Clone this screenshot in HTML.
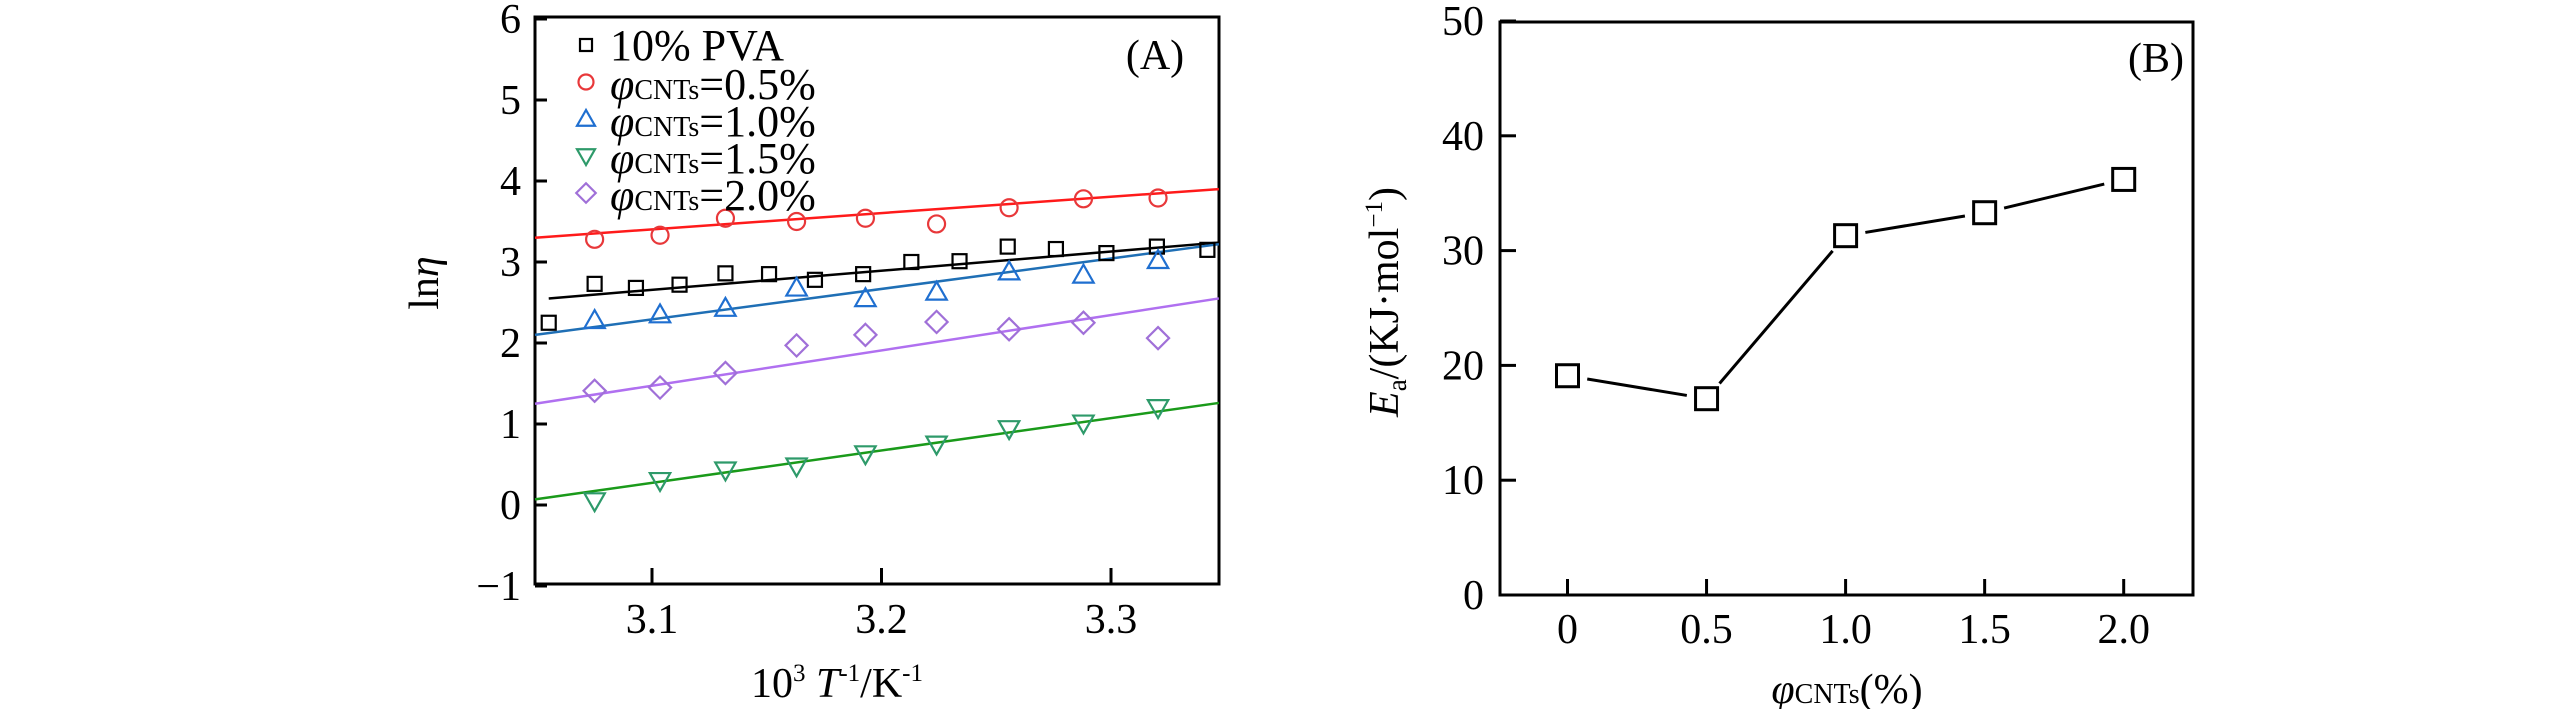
<!DOCTYPE html>
<html><head><meta charset="utf-8"><style>
html,body{margin:0;padding:0;background:#fff;width:2567px;height:709px;overflow:hidden}
svg, svg text{display:block;font-family:"Liberation Serif",serif}
</style></head><body>
<svg id="c" width="2567" height="709" viewBox="0 0 2567 709" font-family="Liberation Serif, serif">
<g id="A"></g>
<g id="B"></g>
</svg>
<script>
// ---- Panel A data ----
const aXTicks = [3.1, 3.2, 3.3];
const aYTicks = [-1, 0, 1, 2, 3, 4, 5, 6];
const pvaX = [3.055,3.075,3.093,3.112,3.132,3.151,3.171,3.192,3.213,3.234,3.255,3.276,3.298,3.320,3.342];
const pvaY = [2.25,2.73,2.68,2.72,2.86,2.85,2.78,2.85,3.00,3.01,3.19,3.16,3.11,3.19,3.15];
const cntX = [3.075,3.1035,3.132,3.163,3.193,3.224,3.2556,3.288,3.3205];
const c05Y = [3.28,3.33,3.54,3.50,3.54,3.47,3.67,3.78,3.79];
const c10Y = [2.28,2.35,2.43,2.68,2.55,2.63,2.88,2.84,3.02];
const c15Y = [0.05,0.30,0.43,0.48,0.63,0.75,0.94,1.01,1.20];
const c20Y = [1.41,1.45,1.63,1.97,2.10,2.26,2.17,2.25,2.06];
const fitX = [3.049, 3.347];
const fitPva = [2.55, 3.24];
const fit05 = [3.30, 3.90];
const fit10 = [2.10, 3.22];
const fit15 = [0.07, 1.26];
const fit20 = [1.25, 2.55];
// ---- Panel B data ----
const bX = [0, 0.5, 1.0, 1.5, 2.0];
const bXLabels = ["0","0.5","1.0","1.5","2.0"];
const bY = [19.1, 17.1, 31.3, 33.3, 36.2];
const bYTicks = [0,10,20,30,40,50];

const NS="http://www.w3.org/2000/svg";
function mk(parent,tag,attrs,text){const e=document.createElementNS(NS,tag);for(const k in attrs)e.setAttribute(k,attrs[k]);if(text!==undefined)e.textContent=text;parent.appendChild(e);return e;}

// ===== Panel A =====
const A=document.getElementById('A');
const aL=535,aR=1219,aT=17,aB=584;
const ax=v=>652+(v-3.1)*2295;
const ay=v=>505-v*81;
let fr=mk(A,'rect',{x:aL,y:aT,width:aR-aL,height:aB-aT,fill:'none',stroke:'#000','stroke-width':3});


aYTicks.forEach(v=>{
  const t=mk(A,'line',{x1:aL,x2:aL+12,y1:ay(v),y2:ay(v),stroke:'#000','stroke-width':3});
  
  
  const l=mk(A,'text',{x:521,y:ay(v)+14,'font-size':42,'text-anchor':'end'},v<0?'\u2212'+(-v):String(v));
  
  
});
aXTicks.forEach(v=>{
  const t=mk(A,'line',{x1:ax(v),x2:ax(v),y1:aB,y2:aB-16,stroke:'#000','stroke-width':3});
  
  
  const l=mk(A,'text',{x:ax(v),y:633,'font-size':42,'text-anchor':'middle'},v.toFixed(1));
  
  
});
// fits
const fits=[fitPva,fit05,fit10,fit15,fit20];
const fitCols=['#000','#ff1a1a','#1f6fb5','#1a9a1a','#b070f0'];
fits.forEach((f,i)=>{
  const x0=i==0?3.055:fitX[0];
  const ln=mk(A,'line',{x1:Math.max(ax(x0),aL),y1:ay(f[0]),x2:ax(fitX[1]),y2:ay(f[1]),stroke:fitCols[i],'stroke-width':2.5});
  
  
});
function marker(g,type,cx,cy,col,s){
  let e;
  if(type==='sq') e=mk(g,'rect',{x:cx-s/2,y:cy-s/2,width:s,height:s});
  else if(type==='ci') e=mk(g,'circle',{cx:cx,cy:cy,r:s/2});
  else if(type==='up') e=mk(g,'polygon',{points:`${cx},${cy-s*0.6} ${cx-s*0.6},${cy+s*0.45} ${cx+s*0.6},${cy+s*0.45}`});
  else if(type==='dn') e=mk(g,'polygon',{points:`${cx},${cy+s*0.6} ${cx-s*0.6},${cy-s*0.45} ${cx+s*0.6},${cy-s*0.45}`});
  else e=mk(g,'polygon',{points:`${cx},${cy-s*0.65} ${cx+s*0.65},${cy} ${cx},${cy+s*0.65} ${cx-s*0.65},${cy}`});
  e.setAttribute('fill','none');e.setAttribute('stroke',col);e.setAttribute('stroke-width',2.2);
  return e;
}
const series=[[pvaX,pvaY,'sq','#000',14],[cntX,c05Y,'ci','#e8383a',17],[cntX,c10Y,'up','#1f6fd0',17],[cntX,c15Y,'dn','#2e9a6a',17],[cntX,c20Y,'di','#a070d8',17]];
const names=['point-pva','point-cnt-0.5','point-cnt-1.0','point-cnt-1.5','point-cnt-2.0'];
series.forEach((s,i)=>{
  s[0].forEach((xv,j)=>{
    const m=marker(A,s[2],ax(xv),ay(s[1][j]),s[3],s[4]);
    
    
  });
});
// legend
const legLabels=['0.5%','1.0%','1.5%','2.0%'];
const legY=[45,82,119,156,193];
series.forEach((s,i)=>{
  const m=marker(A,s[2],586,legY[i],s[3],s[4]-2);
  
  
  let t;
  if(i===0){t=mk(A,'text',{x:610,y:60,'font-size':44,'font-family':'Liberation Serif, serif'},'10% PVA');}
  else{
    t=mk(A,'text',{x:610,y:legY[i]+17,'font-size':44,'font-family':'Liberation Serif, serif'});
    mk(t,'tspan',{'font-style':'italic'},'\u03C6');
    mk(t,'tspan',{'font-size':28},'CNTs');
    mk(t,'tspan',{},'='+legLabels[i-1]);
  }
  
  
});
let tA=mk(A,'text',{x:1155,y:69,'font-size':42,'text-anchor':'middle'},'(A)');


let yt=mk(A,'text',{x:0,y:0,'font-size':42,'text-anchor':'middle',transform:'translate(438,283) rotate(-90)'});
mk(yt,'tspan',{},'ln');mk(yt,'tspan',{'font-style':'italic'},'\u03B7');


let xt=mk(A,'text',{x:837,y:697,'font-size':42,'text-anchor':'middle'});
mk(xt,'tspan',{},'10');mk(xt,'tspan',{'font-size':25,dy:-16},'3');
mk(xt,'tspan',{'font-style':'italic',dy:16},' T');mk(xt,'tspan',{'font-size':25,dy:-16},'-1');
mk(xt,'tspan',{dy:16},'/K');mk(xt,'tspan',{'font-size':25,dy:-16},'-1');



// ===== Panel B =====
const B=document.getElementById('B');
const bL=1500,bR=2193,bT=22,bB=595;
const bx=v=>1567.5+v*278.1;
const by=v=>595-v*11.48;
let fb=mk(B,'rect',{x:bL,y:bT,width:bR-bL,height:bB-bT,fill:'none',stroke:'#000','stroke-width':3});


bYTicks.forEach(v=>{
  const t=mk(B,'line',{x1:bL,x2:bL+16,y1:by(v),y2:by(v),stroke:'#000','stroke-width':3});
  
  
  const l=mk(B,'text',{x:1484,y:by(v)+14,'font-size':42,'text-anchor':'end'},String(v));
  
  
});
bX.forEach((v,i)=>{
  const t=mk(B,'line',{x1:bx(v),x2:bx(v),y1:bB,y2:bB-16,stroke:'#000','stroke-width':3});
  
  
  const l=mk(B,'text',{x:bx(v),y:643,'font-size':42,'text-anchor':'middle'},bXLabels[i]);
  
  
});
for(let i=0;i<bX.length-1;i++){
  const x1=bx(bX[i]),y1=by(bY[i]),x2=bx(bX[i+1]),y2=by(bY[i+1]);
  const d=Math.hypot(x2-x1,y2-y1),g=20;
  const ux=(x2-x1)/d,uy=(y2-y1)/d;
  const ln=mk(B,'line',{x1:x1+ux*g,y1:y1+uy*g,x2:x2-ux*g,y2:y2-uy*g,stroke:'#000','stroke-width':3});
  
  
}
bX.forEach((v,i)=>{
  const m=mk(B,'rect',{x:bx(v)-11,y:by(bY[i])-11,width:22,height:22,fill:'none',stroke:'#000','stroke-width':3});
  
  
});
let tB=mk(B,'text',{x:2156,y:72,'font-size':42,'text-anchor':'middle'},'(B)');


let ybt=mk(B,'text',{x:0,y:0,'font-size':42,'text-anchor':'middle',transform:'translate(1398,302) rotate(-90)'});
mk(ybt,'tspan',{'font-style':'italic'},'E');mk(ybt,'tspan',{'font-size':27,dy:8},'a');
mk(ybt,'tspan',{dy:-8},'/(KJ\u00B7mol');mk(ybt,'tspan',{'font-size':25,dy:-16},'\u22121');mk(ybt,'tspan',{dy:16},')');


let xbt=mk(B,'text',{x:1847,y:703,'font-size':42,'text-anchor':'middle'});
mk(xbt,'tspan',{'font-style':'italic'},'\u03C6');mk(xbt,'tspan',{'font-size':28},'CNTs');mk(xbt,'tspan',{},'(%)');


</script>
</body></html>
